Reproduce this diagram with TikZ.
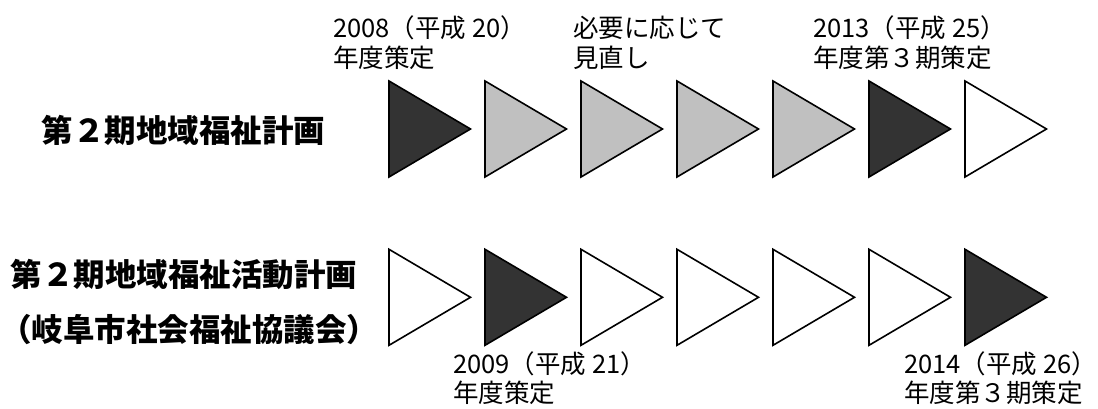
\documentclass[tikz,border=0pt]{standalone}
\usepackage{fontspec}
\setmainfont{Noto Sans CJK JP}
\newfontfamily\heavyjp{Noto Sans CJK JP Black}
\definecolor{darkfill}{HTML}{333333}
\definecolor{grayfill}{HTML}{C0C0C0}
\begin{document}
\begin{tikzpicture}[x=1pt,y=-1pt,
  tri/.style={draw=black,line width=1.6pt,line join=miter},
  lbl/.style={anchor=base west,inner sep=0pt,font=\fontsize{25.5}{30}\selectfont},
  ttl/.style={anchor=base west,inner sep=0pt,font=\fontsize{31.5}{36}\selectfont\heavyjp}]
\useasboundingbox (0,0) rectangle (1098,409);
% top row
\foreach \i/\c in {0/darkfill,1/grayfill,2/grayfill,3/grayfill,4/grayfill,5/darkfill,6/white}
  \draw[tri,fill=\c] (389+96*\i,81) -- ++(0,96) -- ++(81.5,-48) -- cycle;
% bottom row
\foreach \i/\c in {0/white,1/darkfill,2/white,3/white,4/white,5/white,6/darkfill}
  \draw[tri,fill=\c] (389+96*\i,249.3) -- ++(0,96) -- ++(81.5,-48) -- cycle;
% titles
\node[ttl] (t1) at (41.5,143) {第２期地域福祉計画};
\node[ttl] (t2) at (10.5,286) {第２期地域福祉活動計画};
\node[ttl] (t3) at (0,341) {（岐阜市社会福祉協議会）};
% labels
\node[lbl] (a1) at (333,38) {2008（平成 20）};
\node[lbl] (a2) at (333,68) {年度策定};
\node[lbl] (b1) at (573,38) {必要に応じて};
\node[lbl] (b2) at (573,68) {見直し};
\node[lbl] (c1) at (813,38) {2013（平成 25）};
\node[lbl] (c2) at (813,68) {年度第３期策定};
\node[lbl] (d1) at (453,373) {2009（平成 21）};
\node[lbl] (d2) at (453,402) {年度策定};
\node[lbl] (e1) at (904,373) {2014（平成 26）};
\node[lbl] (e2) at (904,402) {年度第３期策定};
\end{tikzpicture}
\end{document}
